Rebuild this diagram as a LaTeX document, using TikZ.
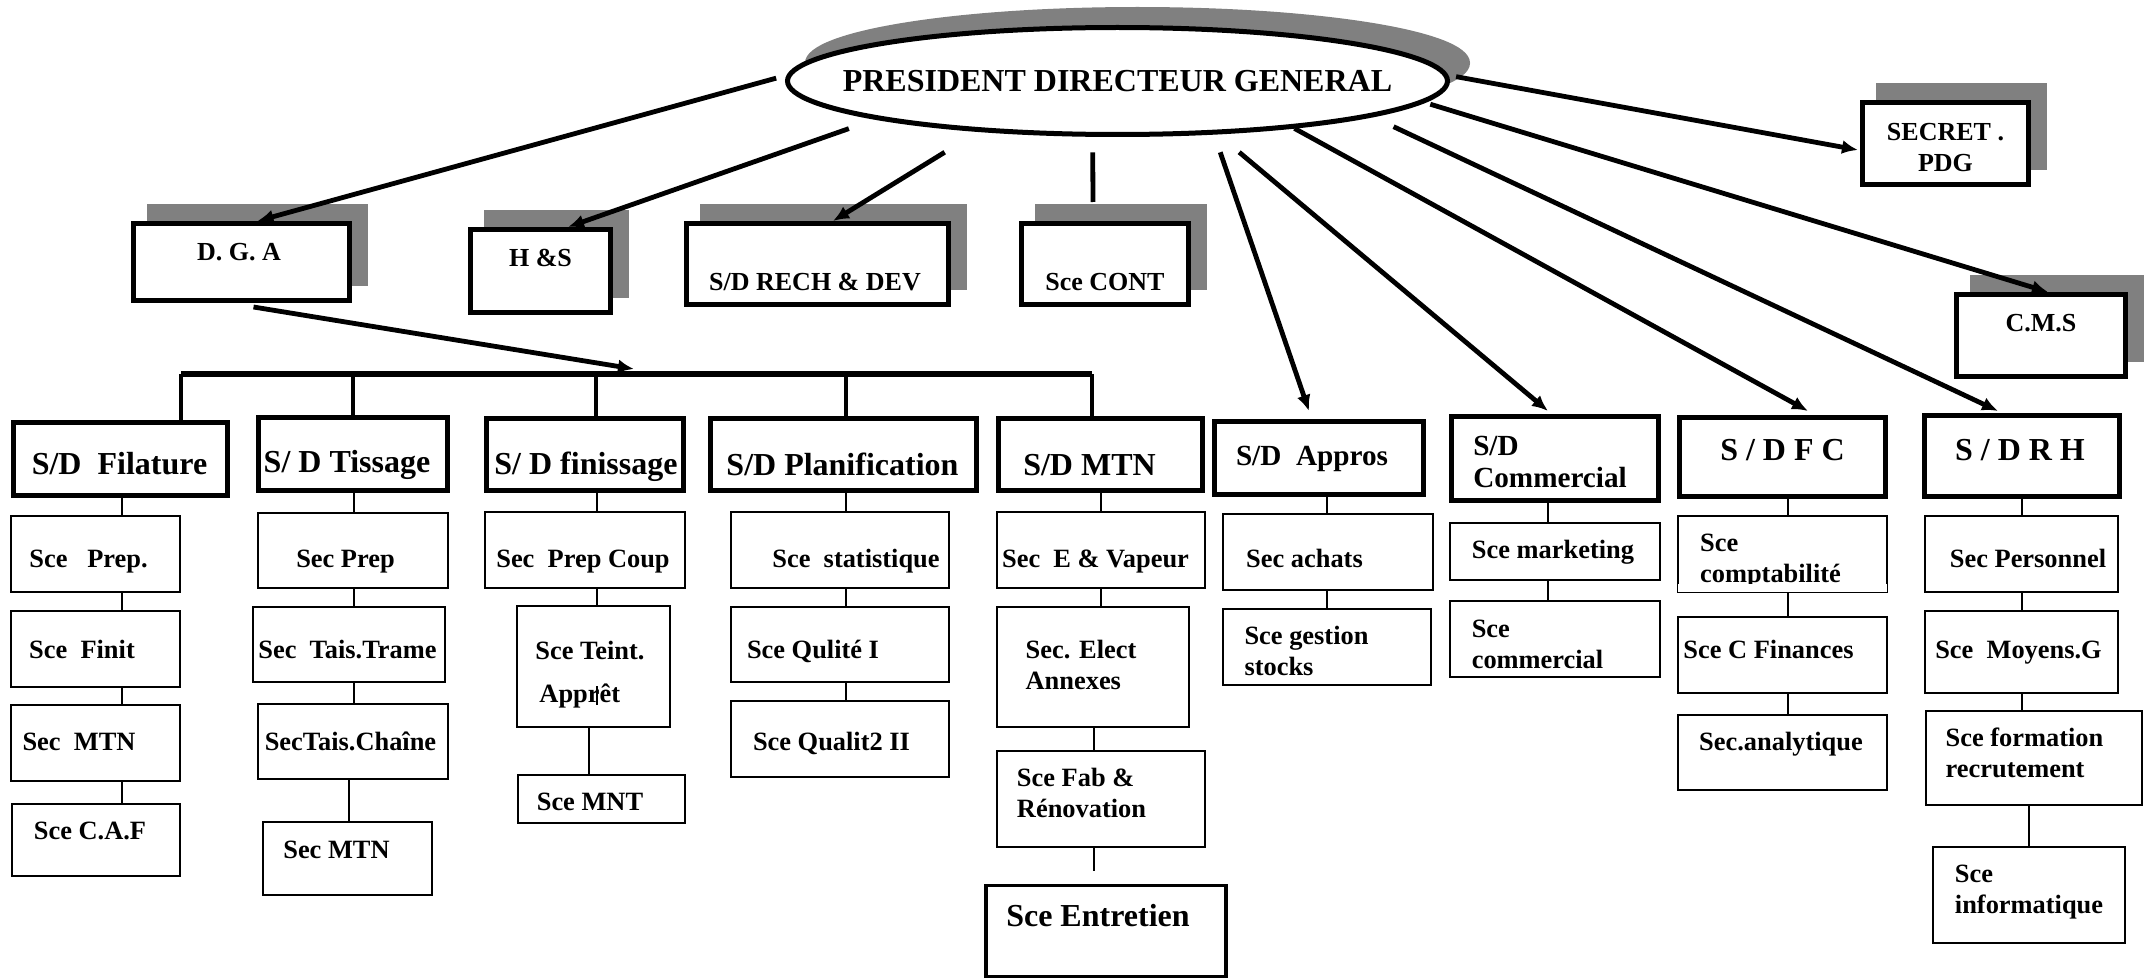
\documentclass[tikz,border=0pt]{standalone}
\usepackage{fontspec}
\setmainfont{Liberation Serif}
\usetikzlibrary{arrows.meta,shadows,shapes.geometric}
\definecolor{shadowgray}{RGB}{128,128,128}
\newcommand{\txtshift}[3]{\hspace*{#1}\raisebox{#2}[\height][\depth]{#3}\hspace*{-#1}}
\tikzset{dims/.style 2 args={minimum width=#1pt, minimum height=#2pt}}

\begin{document}
\begin{tikzpicture}[x=1pt,y=-1pt]
    \tikzstyle{shadowed}=[drop shadow={shadow xshift=8pt, shadow yshift=8.5pt, fill=shadowgray, draw=shadowgray, opacity=1}]
    \tikzstyle{topbox}=[draw, line width=2.5pt, fill=white, inner sep=0pt, text height=9pt, text depth=3pt, font=\bfseries\fontsize{13}{15.5}\selectfont, shadowed]
    \tikzstyle{dirbox}=[draw, line width=2.5pt, fill=white, inner sep=0pt, text height=11pt, text depth=3.5pt, font=\bfseries\fontsize{16}{18}\selectfont]
    \tikzstyle{secbox}=[draw, line width=0.8pt, fill=white, inner sep=0pt, text height=9pt, text depth=3pt, font=\bfseries\fontsize{13.2}{15.5}\selectfont]
    \tikzstyle{multi}=[text height=, text depth=]
    \tikzstyle{pdgarrow}=[line width=2.4pt, -{Latex[length=8pt,width=7pt]}]
    \tikzstyle{busline}=[line width=2.4pt]
    \tikzstyle{seclink}=[line width=0.75pt]

    \fill[white] (0,0) rectangle (1077,489.5);
    \useasboundingbox (0,0) rectangle (1077,489.5);

    % direction generale
    \node[ellipse, draw, line width=2.5pt, fill=white, inner sep=0pt, dims={330}{53.5},
          drop shadow={shadow xshift=10pt, shadow yshift=9pt, fill=shadowgray, draw=shadowgray, opacity=1},
          font=\bfseries\fontsize{16}{19}\selectfont] (pdg) at (558.75,40.5) {\makebox[0pt]{PRESIDENT DIRECTEUR GENERAL}};

    \node[topbox, dims={108}{38.5}] (dga) at (120.75,131) {\txtshift{-1.25pt}{3.7pt}{D. G. A}};
    \node[topbox, dims={70}{41.5}] (hs) at (270.25,135.5) {\txtshift{0pt}{5.2pt}{H \&S}};
    \node[topbox, dims={131}{40.5}] (rech) at (408.75,132) {\txtshift{-1.25pt}{-10.3pt}{S/D RECH \& DEV}};
    \node[topbox, dims={83.5}{40.5}] (cont) at (552.5,132) {\txtshift{0pt}{-10.3pt}{Sce CONT}};
    \node[topbox, multi, dims={83}{41}] (secret) at (972.75,71.75) {\txtshift{0pt}{-3.2pt}{\begin{tabular}{@{}c@{}}SECRET .\\PDG\end{tabular}}};
    \node[topbox, dims={84.5}{41}] (cms) at (1020.5,167.75) {\txtshift{0pt}{4.95pt}{C.M.S}};

    % sous-directions
    \node[dirbox, dims={107}{36.5}] (fil) at (60.25,229.5) {\txtshift{-0.5pt}{-4.15pt}{S/D\ \ Filature}};
    \node[dirbox, dims={94.5}{36.5}] (tis) at (176.5,227) {\txtshift{-3pt}{-5.65pt}{S/ D Tissage}};
    \node[dirbox, dims={98.5}{36}] (fin) at (292.5,227.25) {\txtshift{0.5pt}{-6pt}{S/ D finissage}};
    \node[dirbox, dims={133}{36}] (pla) at (421.75,227.25) {\txtshift{-0.5pt}{-6.65pt}{S/D Planification}};
    \node[dirbox, dims={102}{36}] (mtn) at (550.25,227.25) {\txtshift{-5.5pt}{-6.65pt}{S/D MTN}};
    \node[dirbox, dims={104.5}{36.5}, font=\bfseries\fontsize{14.6}{16}\selectfont] (app) at (659.5,229) {\txtshift{-3.5pt}{0pt}{S/D\ \ Appros}};
    \node[dirbox, multi, dims={103.5}{42}, font=\bfseries\fontsize{14.6}{16}\selectfont] (com) at (777.5,229.25) {\txtshift{-2.5pt}{-3.4pt}{\begin{tabular}{@{}l@{}}S/D\\Commercial\end{tabular}}};
    \node[dirbox, dims={103}{39.5}] (dfc) at (891.25,228.5) {\txtshift{0pt}{1.85pt}{S / D F C}};
    \node[dirbox, dims={97.5}{40.5}] (drh) at (1011,228) {\txtshift{-1pt}{1.35pt}{S / D R H}};

    % services
    \node[secbox, dims={84.5}{38}] (f1) at (47.75,277) {\txtshift{-3.5pt}{-3.9pt}{Sce\ \ \ Prep.}};
    \node[secbox, dims={84.5}{38}] (f2) at (47.75,324.5) {\txtshift{-6.75pt}{-1.9pt}{Sce\ \ Finit}};
    \node[secbox, dims={84.5}{38}] (f3) at (47.75,371.5) {\txtshift{-8.25pt}{-0.9pt}{Sec\ \ MTN}};
    \node[secbox, dims={84}{36}] (f4) at (48,420) {\txtshift{-3pt}{3.1pt}{Sce C.A.F}};

    \node[secbox, dims={95}{37.5}] (t1) at (176.5,275.25) {\txtshift{-3.75pt}{-5.65pt}{Sec Prep}};
    \node[secbox, dims={96}{37.5}] (t2) at (174.5,322.25) {\txtshift{-0.75pt}{-4.15pt}{Sec\ \ Tais.Trame}};
    \node[secbox, dims={95}{37.5}] (t3) at (176.5,370.75) {\txtshift{-1.25pt}{-1.65pt}{SecTais.Chaîne}};
    \node[secbox, dims={84.5}{36.5}] (t4) at (173.75,429.25) {\txtshift{-5.5pt}{2.85pt}{Sec MTN}};

    \node[secbox, dims={100}{38}] (n1) at (292.5,275) {\txtshift{-1pt}{-5.9pt}{Sec\ \ Prep Coup}};
    \node[secbox, multi, dims={76.5}{60.5}] (n2) at (296.75,333.25) {\txtshift{-1.75pt}{-4.25pt}{\begin{tabular}{@{}l@{}}Sce Teint.\\[6pt]\hspace*{2pt}Apprêt\end{tabular}}};
    \node[secbox, dims={83.5}{24}] (n3) at (300.75,399.5) {\txtshift{-5.75pt}{-2.9pt}{Sce MNT}};

    \node[secbox, dims={109}{38}] (p1) at (420,275) {\txtshift{8pt}{-5.9pt}{Sce\ \ statistique}};
    \node[secbox, dims={109}{37.5}] (p2) at (420,322.25) {\txtshift{-13.5pt}{-4.15pt}{Sce Qulité I}};
    \node[secbox, dims={109}{38}] (p3) at (420,369.5) {\txtshift{-4.25pt}{-2.9pt}{Sce Qualit2 II}};

    \node[secbox, dims={104}{38}] (m1) at (550.5,275) {\txtshift{-2.75pt}{-5.9pt}{Sec\ \ E \& Vapeur}};
    \node[secbox, multi, dims={96}{60}] (m2) at (546.5,333.5) {\txtshift{-6pt}{-0.5pt}{\begin{tabular}{@{}l@{}}Sec. Elect\\Annexes\end{tabular}}};
    \node[secbox, multi, dims={104}{48}] (m3) at (550.5,399.5) {\txtshift{-9.75pt}{1.75pt}{\begin{tabular}{@{}l@{}}Sce Fab \&\\Rénovation\end{tabular}}};
    \node[secbox, dims={120}{45.5}, line width=1.6pt, text height=11pt, text depth=3.5pt, font=\bfseries\fontsize{16}{18}\selectfont] (m4) at (553,465.5) {\txtshift{-4pt}{5.85pt}{Sce Entretien}};

    \node[secbox, dims={105}{38}] (a1) at (664,276) {\txtshift{-11.75pt}{-4.9pt}{Sec achats}};
    \node[secbox, multi, dims={104}{38}] (a2) at (663.5,323.5) {\txtshift{-10.25pt}{-3.5pt}{\begin{tabular}{@{}l@{}}Sce gestion\\stocks\end{tabular}}};

    \node[secbox, dims={105}{28.5}] (c1) at (777.5,275.75) {\txtshift{-1pt}{-0.65pt}{Sce marketing}};
    \node[secbox, multi, dims={105}{38}] (c2) at (777.5,319.5) {\txtshift{-8.75pt}{-3.75pt}{\begin{tabular}{@{}l@{}}Sce\\commercial\end{tabular}}};

    \node[secbox, multi, dims={104.5}{38}] (d1) at (891.25,277) {\txtshift{-6pt}{-3.5pt}{\begin{tabular}{@{}l@{}}Sce\\comptabilité\end{tabular}}};
    \fill[white] ([xshift=0.5pt,yshift=0.45pt]d1.south west) rectangle ([xshift=-0.5pt,yshift=4.5pt]d1.south east);
    \node[secbox, dims={104.5}{38}] (d2) at (891.25,327.5) {\txtshift{-7pt}{1.1pt}{Sce C Finances}};
    \node[secbox, dims={104.5}{37.5}] (d3) at (891.25,376.25) {\txtshift{-0.75pt}{3.85pt}{Sec.analytique}};

    \node[secbox, dims={96.5}{38}] (r1) at (1010.75,277) {\txtshift{3.25pt}{-3.9pt}{Sec Personnel}};
    \node[secbox, dims={96.5}{41}] (r2) at (1010.75,326) {\txtshift{-1.5pt}{-0.4pt}{Sce\ \ Moyens.G}};
    \node[secbox, multi, dims={108}{47}] (r3) at (1017,379) {\txtshift{-4.75pt}{1pt}{\begin{tabular}{@{}l@{}}Sce formation\\recrutement\end{tabular}}};
    \node[secbox, multi, dims={96}{48}] (r4) at (1014.5,447.5) {\txtshift{0pt}{1.5pt}{\begin{tabular}{@{}l@{}}Sce\\informatique\end{tabular}}};

    % liaisons depuis le PDG
    \draw[pdgarrow, shorten <=5.5pt] (pdg.179) -- ([xshift=8pt]dga.north);
    \draw[pdgarrow, shorten <=14pt] (pdg.189) -- ([xshift=13.75pt]hs.north);
    \draw[pdgarrow, shorten <=19.5pt] (pdg.200) -- ([xshift=7.75pt]rech.north);
    \draw[busline, shorten <=7.8pt] (pdg.246) -- ([xshift=-6pt,yshift=9.5pt]cont.north);
    \draw[pdgarrow, shorten <=9.35pt] (pdg.331) -- ([xshift=-5pt,yshift=4pt]app.north);
    \draw[pdgarrow, shorten <=13.9pt] (pdg.332) -- ([xshift=-3.5pt,yshift=1.5pt]com.north);
    \draw[pdgarrow] (pdg.345) -- ([xshift=12.75pt,yshift=2pt]dfc.north);
    \draw[pdgarrow, shorten <=11.5pt] (pdg.352) -- ([xshift=-12pt,yshift=1pt]drh.north);
    \draw[pdgarrow, shorten <=4pt] (pdg.1) -- ([xshift=-1pt,yshift=-3.25pt]secret.west);
    \draw[pdgarrow, shorten <=3pt] (pdg.356) -- ([xshift=3.5pt]cms.north);

    % bus sous la D.G.A
    \coordinate (busA) at (317,184.5);
    \foreach \n/\x in {dfil/90.5, dtis/176.5, dfin/298, dpla/423, dmtn/546}
        \coordinate (\n) at (\x,187);
    \draw[pdgarrow] ([xshift=6pt,yshift=-2pt]dga.south) -- (busA);
    \draw[busline, line width=3pt] (dfil) -- (dmtn);
    \draw[busline] (dfil) -- (dfil |- fil.north);
    \draw[busline] (dtis) -- (dtis |- tis.north);
    \draw[busline] (dfin) -- (dfin |- fin.north);
    \draw[busline] (dpla) -- (dpla |- pla.north);
    \draw[busline] (dmtn) -- (dmtn |- mtn.north);

    % liaisons des services
    \foreach \n/\x in {xfil/61, xtis/177, xtisb/174.5, xfin/298.5, xfinb/294.5, xpla/423,
                       xmtn/550.5, xmtnb/547, xapp/663.5, xcom/774, xdfc/894, xdrh/1011, xdrhb/1014.5}
        \coordinate (\n) at (\x,0);
    \foreach \a/\b/\c in {fil/f1/xfil, f1/f2/xfil, f2/f3/xfil, f3/f4/xfil,
                          tis/t1/xtis, t1/t2/xtis, t2/t3/xtis, t3/t4/xtisb,
                          fin/n1/xfin, n1/n2/xfin, n2/n3/xfinb,
                          pla/p1/xpla, p1/p2/xpla, p2/p3/xpla,
                          mtn/m1/xmtn, m1/m2/xmtn, m2/m3/xmtnb,
                          app/a1/xapp, a1/a2/xapp, com/c1/xcom, c1/c2/xcom,
                          dfc/d1/xdfc, d1/d2/xdfc, d2/d3/xdfc,
                          drh/r1/xdrh, r1/r2/xdrh, r2/r3/xdrh, r3/r4/xdrhb}
        \draw[seclink] (\a.south -| \c) -- (\b.north -| \c);
    \draw[seclink, shorten >=6.5pt] (m3.south -| xmtnb) -- (m4.north -| xmtnb);
    \draw[seclink] (298.5,343) -- (298.5,352.5);

\end{tikzpicture}
\end{document}
